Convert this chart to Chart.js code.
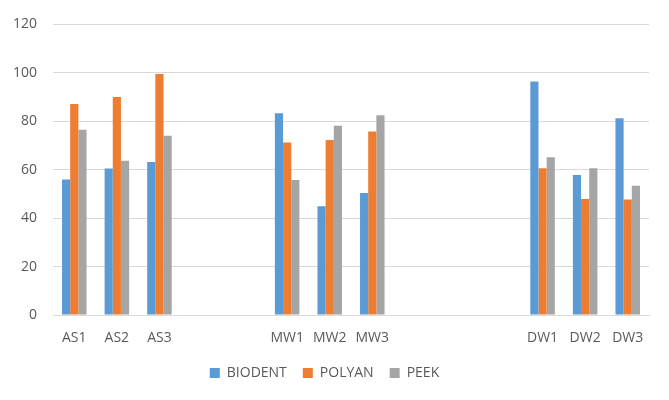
<!DOCTYPE html>
<html>
<head>
<meta charset="utf-8">
<script src="https://cdn.jsdelivr.net/npm/chart.js@4/dist/chart.umd.min.js"></script>
<style>
html,body{margin:0;padding:0;background:#fff;}
#wrap{width:669px;height:400px;}
</style>
</head>
<body>
<div id="wrap"><canvas id="c" width="669" height="400"></canvas></div>
<script>
const categories = ['AS1','AS2','AS3','','','MW1','MW2','MW3','','','','DW1','DW2','DW3'];
const biodent = [56.0, 60.5, 63.2, null, null, 83.3, 44.9, 50.4, null, null, null, 96.4, 57.8, 81.2];
const polyan  = [87.1, 90.0, 99.5, null, null, 71.2, 72.3, 75.8, null, null, null, 60.6, 47.9, 47.7];
const peek    = [76.5, 63.7, 74.0, null, null, 55.7, 78.2, 82.5, null, null, null, 65.1, 60.6, 53.4];
const seriesNames = ['BIODENT','POLYAN','PEEK'];
const colors = ['#5B9BD5','#ED7D31','#A5A5A5'];
const yTicks = [0,20,40,60,80,100,120];

const textColor = '#595959';
const font = {family:'"Open Sans", sans-serif', size:14};

new Chart(document.getElementById('c'), {
  type:'bar',
  data:{
    labels:categories,
    datasets:[biodent,polyan,peek].map((d,i)=>({
      label:seriesNames[i], data:d, backgroundColor:colors[i],
      borderWidth:0, barPercentage:1, categoryPercentage:0.576
    }))
  },
  options:{
    responsive:false, animation:false,
    devicePixelRatio:1,
    layout:{padding:{left:0,right:20,top:3,bottom:10}},
    plugins:{
      legend:{position:'bottom',
        labels:{boxWidth:10,boxHeight:10,padding:16,color:textColor,font:font}},
      tooltip:{enabled:false}
    },
    scales:{
      x:{
        grid:{display:false,drawTicks:false},
        border:{display:true,color:'#D9D9D9'},
        ticks:{color:textColor,font:font,padding:15,maxRotation:0,autoSkip:false},
        afterFit:(s)=>{s.height=35;}
      },
      y:{
        min:0,max:120,
        afterBuildTicks:(s)=>{s.ticks=yTicks.map(v=>({value:v}));},
        grid:{color:'#D9D9D9',drawTicks:false,lineWidth:1},
        border:{display:false},
        ticks:{color:textColor,font:font,padding:16},
        afterFit:(s)=>{s.width=53;}
      }
    }
  }
});
</script>
</body>
</html>
